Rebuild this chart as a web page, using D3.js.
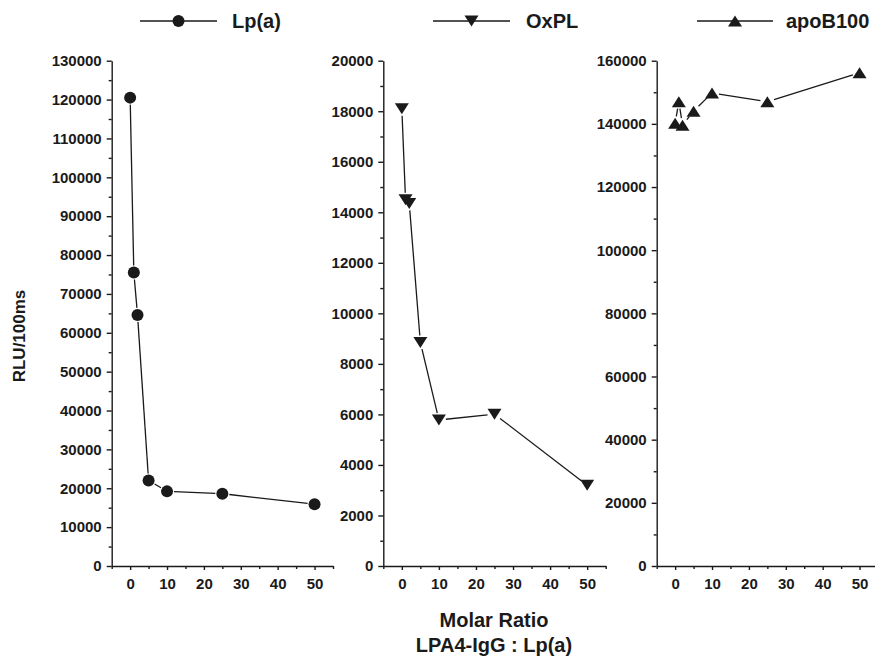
<!DOCTYPE html>
<html>
<head>
<meta charset="utf-8">
<script src="https://cdn.jsdelivr.net/npm/d3@7"></script>
<style>
  body { margin: 0; background: #fff; }
  svg text { font-family: "Liberation Sans", Arial, sans-serif; font-weight: bold; fill: #1a1a1a; }
</style>
</head>
<body>
<svg width="875" height="658"></svg>
<script>
// values
const molarRatio = [0, 1, 2, 5, 10, 25, 50]
const lpaValues = [120500, 75500, 64600, 22000, 19200, 18600, 15900]
const oxplValues = [18100, 14500, 14350, 8850, 5780, 6010, 3200]
const apobValues = [140200, 147000, 139600, 144000, 149800, 147000, 156200]
const xTicks = [0, 10, 20, 30, 40, 50]
const xMinor = [-5, 5, 15, 25, 35, 45, 55]
const seriesNames = ["Lp(a)", "OxPL", "apoB100"]

const svg = d3.select("svg")
const ink = "#1a1a1a"
const plotTop = 60.7, plotBottom = 566

const panels = [
  {name: seriesNames[0], values: lpaValues, left: 111.7, right: 333, yMax: 130000, major: 10000, shape: "circle"},
  {name: seriesNames[1], values: oxplValues, left: 383.3, right: 605.7, yMax: 20000, major: 2000, shape: "down"},
  {name: seriesNames[2], values: apobValues, left: 656.7, right: 878, yMax: 160000, major: 20000, shape: "up"}
]

const marker = (g, shape) => {
  if (shape === "circle") return g.append("circle").attr("r", 6)
  const p = shape === "down" ? "M-7,-5.5L7,-5.5L0,5.5Z" : "M-7,5.5L7,5.5L0,-5.5Z"
  return g.append("path").attr("d", p)
}

panels.forEach(p => {
  const x = d3.scaleLinear().domain([-5, 55]).range([p.left, p.right])
  const y = d3.scaleLinear().domain([0, p.yMax]).range([plotBottom, plotTop])
  const majors = d3.range(0, p.yMax + 1, p.major)
  const minors = d3.range(p.major / 2, p.yMax, p.major)

  // minor ticks
  svg.append("g").attr("transform", `translate(${p.left},0)`)
    .call(d3.axisLeft(y).tickValues(minors).tickSize(3).tickFormat(""))
    .call(g => g.select(".domain").remove())
  svg.append("g").attr("transform", `translate(0,${plotBottom})`)
    .call(d3.axisBottom(x).tickValues(xMinor).tickSize(3).tickFormat(""))
    .call(g => g.select(".domain").remove())

  svg.append("g").attr("transform", `translate(${p.left},0)`)
    .call(d3.axisLeft(y).tickValues(majors).tickSize(5).tickSizeOuter(0).tickPadding(5).tickFormat(d3.format("d")))
  svg.append("g").attr("transform", `translate(0,${plotBottom})`)
    .call(d3.axisBottom(x).tickValues(xTicks).tickSize(4).tickSizeOuter(0).tickPadding(8))

  const pts = molarRatio.map((m, i) => [x(m), y(p.values[i])])

  // connecting segments, stopped short of the symbols
  const gap = 7
  for (let i = 1; i < pts.length; i++) {
    const [x0, y0] = pts[i - 1], [x1, y1] = pts[i]
    const len = Math.hypot(x1 - x0, y1 - y0)
    if (len <= gap * 2) continue
    const ux = (x1 - x0) / len, uy = (y1 - y0) / len
    svg.append("line")
      .attr("x1", x0 + ux * gap).attr("y1", y0 + uy * gap)
      .attr("x2", x1 - ux * gap).attr("y2", y1 - uy * gap)
      .attr("stroke", ink).attr("stroke-width", 1.3)
  }

  pts.forEach(([px, py]) => {
    const g = svg.append("g").attr("transform", `translate(${px},${py})`)
    marker(g, p.shape).attr("fill", ink)
  })
})

svg.selectAll(".tick text").attr("font-size", 15).style("fill", ink)
svg.selectAll(".tick line, .domain").attr("stroke", ink).attr("stroke-width", 1.4)

// legend
const legendPos = [{x1: 140, x2: 217, text: 232}, {x1: 433, x2: 510, text: 526}, {x1: 697, x2: 773, text: 786}]
panels.forEach((p, i) => {
  const l = legendPos[i], ly = 21
  svg.append("line").attr("x1", l.x1).attr("x2", l.x2).attr("y1", ly).attr("y2", ly)
    .attr("stroke", ink).attr("stroke-width", 1.3)
  const g = svg.append("g").attr("transform", `translate(${(l.x1 + l.x2) / 2},${ly})`)
  marker(g, p.shape).attr("fill", ink)
  svg.append("text").attr("x", l.text).attr("y", ly + 7).attr("font-size", 20).text(p.name)
})

svg.append("text")
  .attr("transform", "translate(25,336) rotate(-90)")
  .attr("text-anchor", "middle").attr("font-size", 17)
  .text("RLU/100ms")

svg.append("text").attr("x", 494).attr("y", 627).attr("text-anchor", "middle")
  .attr("font-size", 20).text("Molar Ratio")
svg.append("text").attr("x", 494).attr("y", 652).attr("text-anchor", "middle")
  .attr("font-size", 20).text("LPA4-IgG : Lp(a)")
</script>
</body>
</html>
